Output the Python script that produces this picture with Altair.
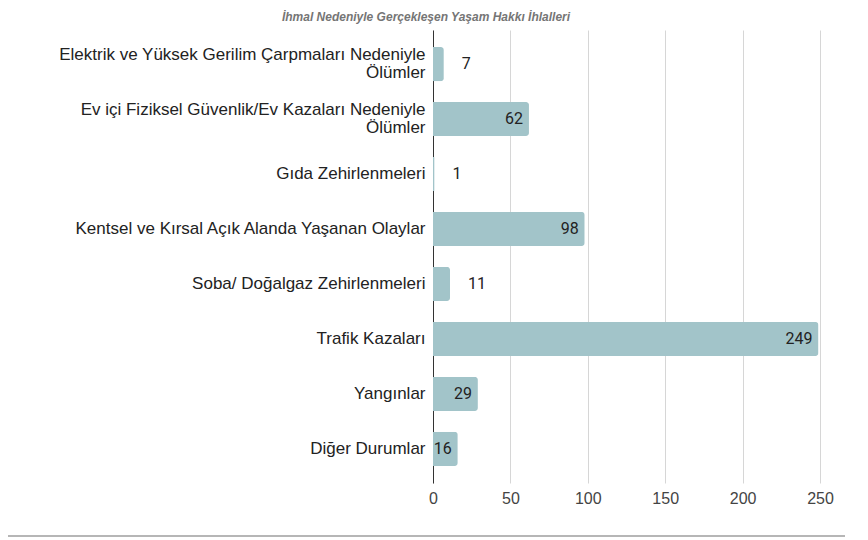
import altair as alt
import pandas as pd

categories = [
    "Elektrik ve Yüksek Gerilim Çarpmaları Nedeniyle|Ölümler",
    "Ev içi Fiziksel Güvenlik/Ev Kazaları Nedeniyle|Ölümler",
    "Gıda Zehirlenmeleri",
    "Kentsel ve Kırsal Açık Alanda Yaşanan Olaylar",
    "Soba/ Doğalgaz Zehirlenmeleri",
    "Trafik Kazaları",
    "Yangınlar",
    "Diğer Durumlar",
]
values = [7, 62, 1, 98, 11, 249, 29, 16]
title_text = "İhmal Nedeniyle Gerçekleşen Yaşam Hakkı İhlalleri"

df = pd.DataFrame({"cat": categories, "val": values})
df["inside"] = df["val"] >= 16

W, H = 387, 453
PL, PT, PR, PB = 425, 22, 30, 55

y = alt.Y(
    "cat:N",
    sort=categories,
    title=None,
    scale=alt.Scale(paddingInner=0.38, paddingOuter=0.31),
    axis=alt.Axis(
        labelExpr="split(datum.label, '|')",
        labelFont="Arial",
        labelFontSize=17,
        labelColor="#222222",
        labelLineHeight=18,
        labelOffset={"condition": {"test": "indexof(datum.value, '|') >= 0", "value": -9}, "value": 0},
        labelPadding=8,
        labelLimit=420,
        ticks=False,
        domain=True,
        domainColor="#333333",
        domainWidth=1,
        grid=False,
    ),
)
x = alt.X(
    "val:Q",
    title=None,
    scale=alt.Scale(domain=[0, 250], nice=False),
    axis=alt.Axis(
        values=[0, 50, 100, 150, 200, 250],
        grid=True,
        gridColor="#d6d6d6",
        domain=False,
        ticks=False,
        labelFlush=False,
        labelFont="Arial",
        labelFontSize=16,
        labelColor="#444444",
        labelPadding=7,
    ),
)

base = alt.Chart(df)
bars = base.mark_bar(color="#a2c4c9", cornerRadiusEnd=3).encode(x=x, y=y)

txt_in = base.transform_filter("datum.inside").mark_text(
    align="right", baseline="middle", dx=-6, font="Roboto", fontSize=16, color="#222222"
).encode(x="val:Q", y=alt.Y("cat:N", sort=categories), text="val:Q")

txt_out = base.transform_filter("!datum.inside").mark_text(
    align="left", baseline="middle", dx=18, font="Roboto", fontSize=16, color="#222222"
).encode(x="val:Q", y=alt.Y("cat:N", sort=categories), text="val:Q")

title_df = pd.DataFrame({"t": [title_text]})
title = alt.Chart(title_df).mark_text(
    font="Arial", fontSize=12, fontStyle="italic", fontWeight="bold",
    color="#757575", align="center", baseline="middle"
).encode(x=alt.value(-7), y=alt.value(-13), text="t:N")

bottom = alt.Chart(title_df).mark_rule(color="#9e9e9e", strokeWidth=1.5).encode(
    x=alt.value(-PL), x2=alt.value(W + 25), y=alt.value(H + 53)
)

chart = alt.layer(bars, txt_in, txt_out, title, bottom).properties(
    width=W, height=H,
    autosize=alt.AutoSizeParams(type="none"),
    padding={"left": PL, "top": PT, "right": PR, "bottom": PB},
).configure_view(stroke=None)

chart.save("out.html", embed_options={"renderer": "svg", "actions": False})
